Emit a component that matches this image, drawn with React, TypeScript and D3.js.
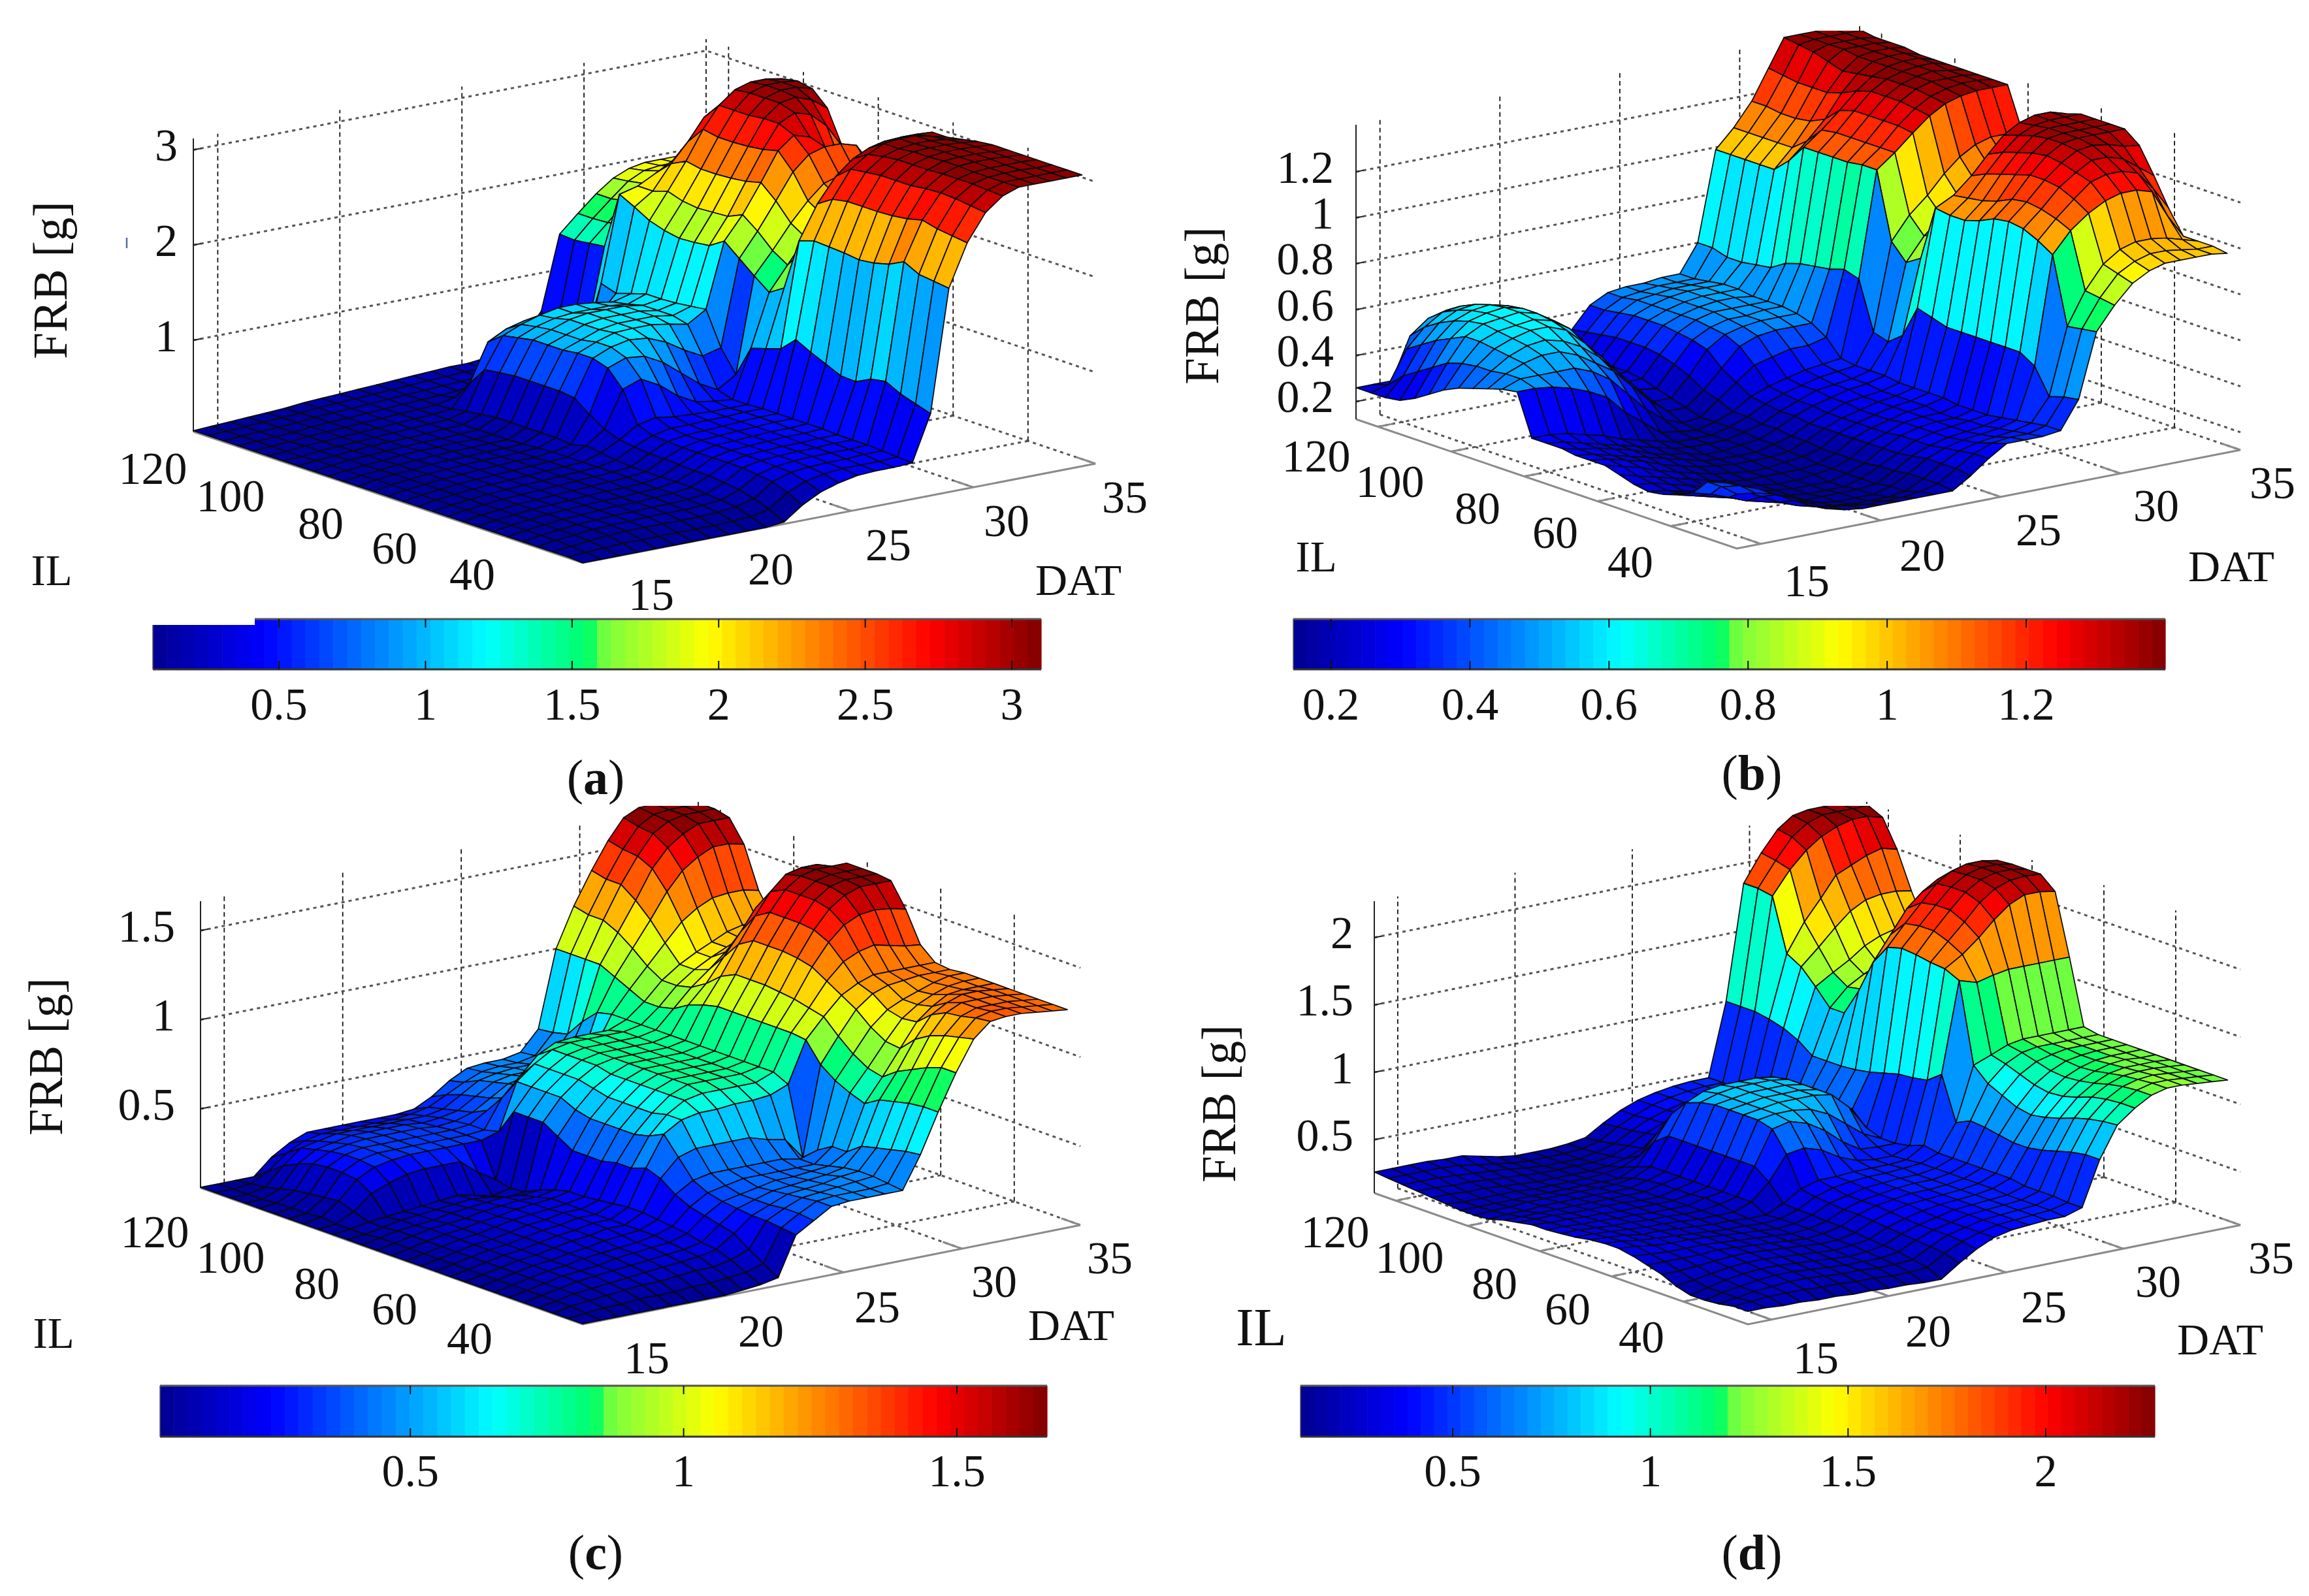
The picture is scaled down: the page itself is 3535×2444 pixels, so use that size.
import React from 'react';
import * as d3 from 'd3';

// grid of the surfaces, same for all four panels
const DAT = [14, 14.75, 15.5, 16.25, 17, 17.75, 18.5, 19.25, 20, 20.75, 21.5, 22.25, 23, 23.75, 24.5, 25.25, 26, 26.75, 27.5, 28.25, 29, 29.75, 30.5, 31.2, 31.85, 32.5, 33.15, 33.8, 34.45];
const IL = [22, 26, 30, 34, 38, 42, 46, 50, 54, 58, 62, 66, 70, 74, 78, 82, 86, 90, 94, 98, 102, 106, 110, 114, 118, 122, 126];
const datTicks = [15, 20, 25, 30, 35];
const ilTicks = [120, 100, 80, 60, 40];

// FRB, one row per IL, one column per DAT
const frbA = [
  [.04,.04,.04,.04,.04,.04,.04,.04,.04,.04,.04,.06,.2,.3,.36,.4,.41,.41,.42,.9,2.18,2.62,2.9,3.04,3.1,3.1,3.1,3.1,3.1],
  [.05,.06,.07,.08,.08,.08,.08,.08,.08,.09,.1,.14,.28,.36,.4,.42,.42,.42,.43,.95,2.2,2.64,2.92,3.05,3.1,3.1,3.1,3.1,3.1],
  [.05,.07,.09,.11,.12,.12,.12,.12,.12,.13,.15,.2,.34,.4,.42,.43,.43,.44,.44,1,2.22,2.66,2.94,3.06,3.1,3.11,3.11,3.1,3.1],
  [.05,.08,.1,.12,.13,.13,.14,.14,.14,.15,.17,.24,.36,.41,.43,.44,.44,.44,.45,1.08,2.3,2.7,2.95,3.06,3.1,3.11,3.11,3.11,3.1],
  [.05,.08,.1,.12,.13,.14,.14,.15,.15,.16,.18,.26,.38,.42,.43,.44,.44,.45,.45,1.05,2.22,2.66,2.94,3.06,3.11,3.12,3.12,3.11,3.1],
  [.05,.08,.1,.12,.13,.14,.15,.15,.16,.17,.2,.28,.38,.42,.43,.44,.44,.45,.45,.97,2.18,2.64,2.92,3.05,3.11,3.12,3.12,3.11,3.1],
  [.05,.08,.1,.12,.13,.14,.15,.15,.16,.17,.2,.28,.38,.42,.43,.44,.45,.45,.46,.98,2.16,2.63,2.92,3.05,3.1,3.12,3.12,3.11,3.1],
  [.05,.08,.1,.12,.13,.14,.15,.16,.16,.17,.2,.29,.38,.42,.43,.44,.45,.45,.46,1.05,2.18,2.63,2.92,3.05,3.1,3.11,3.11,3.1,3.08],
  [.05,.08,.1,.12,.13,.14,.15,.16,.17,.18,.2,.3,.38,.42,.43,.44,.45,.46,.46,1.12,2.19,2.63,2.9,3.03,3.08,3.1,3.1,3.08,3.05],
  [.05,.08,.1,.12,.13,.14,.15,.16,.17,.18,.2,.3,.39,.42,.43,.44,.45,.46,.46,1.2,2.2,2.6,2.88,3,3.08,3.1,3.1,3.06,3.02],
  [.05,.08,.1,.12,.13,.14,.15,.16,.17,.18,.22,.32,.4,.44,.44,.45,.45,.46,.46,1.05,2.15,2.5,2.75,2.9,2.98,3.02,3.03,3.03,3.02],
  [.05,.08,.1,.12,.13,.14,.15,.16,.17,.18,.24,.34,.46,.5,.47,.46,.45,.45,.45,1,1.6,1.95,2.2,2.4,2.5,2.55,2.58,2.6,2.6],
  [.05,.08,.1,.12,.13,.14,.15,.16,.17,.18,.26,.4,.78,.85,.75,.6,.5,.47,.45,.95,1.5,1.75,2,2.2,2.35,2.42,2.45,2.45,2.45],
  [.05,.08,.1,.12,.13,.14,.15,.16,.16,.18,.22,.5,.95,1.02,1,.9,.75,.6,.5,.62,1.62,1.85,2.1,2.3,2.45,2.5,2.5,2.5,2.5],
  [.05,.08,.1,.12,.13,.14,.15,.15,.16,.17,.24,.62,1,1.08,1.12,1.1,1.02,.9,.8,.85,1.75,2,2.28,2.55,2.7,2.75,2.75,2.7,2.45],
  [.05,.08,.1,.11,.13,.14,.14,.15,.15,.16,.24,.64,1,1.08,1.14,1.15,1.15,1.12,1.08,1.2,1.88,2.12,2.42,2.72,2.85,2.8,2.65,2.45,2.25],
  [.05,.07,.09,.11,.12,.13,.14,.14,.15,.15,.24,.64,.98,1.05,1.12,1.15,1.15,1.15,1.12,1.18,1.78,2.05,2.38,2.68,2.92,3,2.95,2.8,2.55],
  [.05,.07,.09,.1,.12,.13,.13,.14,.14,.15,.24,.64,.98,1.05,1.12,1.15,1.15,1.15,1.12,1.16,1.76,2.04,2.36,2.66,2.92,3.05,3.08,3.02,2.9],
  [.05,.07,.09,.1,.11,.12,.13,.13,.14,.15,.24,.64,.98,1.05,1.12,1.15,1.15,1.15,1.12,1.15,1.75,2.03,2.35,2.65,2.9,3.05,3.1,3.1,3.05],
  [.05,.07,.08,.1,.11,.12,.12,.13,.14,.15,.22,.62,.95,1.03,1.08,1.1,1.1,1.1,1.08,1.15,1.78,2.05,2.35,2.65,2.9,3.05,3.1,3.1,3.08],
  [.05,.06,.08,.09,.1,.11,.12,.13,.14,.15,.2,.6,.92,1,1.06,1.1,1.1,1.08,1.05,1.1,1.83,2.1,2.38,2.68,2.9,3.03,3.08,3.08,3.05],
  [.05,.06,.08,.09,.1,.11,.12,.13,.14,.15,.17,.4,.8,.9,.95,.95,.95,.92,.85,1.05,1.92,2.05,2.3,2.5,2.72,2.82,2.85,2.85,2.85],
  [.05,.06,.07,.09,.1,.11,.12,.13,.14,.15,.16,.2,.3,.35,.38,.38,.38,.36,.34,1.1,2,2.05,2.15,2.25,2.35,2.42,2.45,2.45,2.45],
  [.05,.06,.07,.08,.1,.11,.12,.13,.14,.15,.16,.17,.18,.19,.2,.2,.21,.22,.26,.5,1.4,1.6,1.82,1.98,2.1,2.15,2.15,2.15,2.15],
  [.05,.06,.07,.08,.09,.11,.12,.13,.14,.15,.16,.17,.18,.19,.2,.2,.21,.22,.26,.45,1.38,1.56,1.75,1.9,2,2.02,2.02,2.02,2.02],
  [.05,.06,.07,.08,.09,.1,.12,.13,.14,.15,.16,.17,.18,.19,.2,.2,.21,.24,.28,.45,1.36,1.55,1.72,1.87,1.95,1.97,1.97,1.97,1.97],
  [.05,.06,.07,.08,.09,.1,.12,.13,.14,.15,.16,.17,.18,.19,.2,.2,.22,.26,.35,.6,1.37,1.55,1.72,1.85,1.92,1.95,1.95,1.95,1.95],
];

const frbB = [
  [.36,.35,.33,.3,.26,.22,.2,.19,.19,.19,.19,.19,.19,.24,.3,.35,.35,.35,.36,.48,.76,.86,.94,.98,1,1,1,1,.99],
  [.37,.36,.33,.29,.25,.21,.19,.18,.17,.17,.17,.18,.2,.25,.3,.33,.34,.34,.36,.47,.75,.87,.96,1,1.02,1.02,1.01,1,1],
  [.37,.35,.3,.26,.22,.19,.17,.16,.15,.15,.15,.16,.2,.25,.29,.31,.32,.33,.35,.45,.74,.88,.98,1.03,1.05,1.05,1.04,1.02,1],
  [.3,.28,.25,.22,.2,.18,.16,.15,.14,.14,.14,.16,.2,.25,.28,.3,.31,.32,.34,.56,1.03,1.12,1.18,1.22,1.24,1.24,1.22,1.1,1],
  [.27,.25,.23,.21,.19,.17,.16,.14,.14,.14,.14,.15,.19,.24,.27,.29,.3,.31,.33,.6,1.07,1.15,1.22,1.28,1.3,1.3,1.28,1.2,1.1],
  [.25,.24,.22,.2,.18,.17,.15,.14,.13,.13,.13,.15,.19,.23,.27,.29,.3,.31,.32,.6,1.1,1.17,1.25,1.3,1.34,1.34,1.32,1.27,1.22],
  [.24,.23,.21,.2,.18,.16,.15,.14,.13,.13,.13,.15,.18,.23,.27,.29,.3,.3,.32,.6,1.11,1.18,1.26,1.32,1.36,1.37,1.36,1.34,1.33],
  [.25,.24,.22,.2,.18,.16,.15,.14,.13,.13,.14,.15,.18,.23,.26,.29,.3,.3,.32,.6,1.1,1.17,1.26,1.33,1.37,1.38,1.38,1.38,1.38],
  [.27,.25,.23,.21,.19,.17,.15,.14,.14,.14,.14,.15,.18,.23,.26,.28,.3,.31,.33,.6,1.07,1.14,1.24,1.32,1.37,1.38,1.38,1.38,1.38],
  [.29,.27,.25,.22,.2,.18,.16,.15,.14,.14,.15,.16,.18,.23,.26,.28,.3,.31,.33,.6,1.05,1.12,1.22,1.3,1.36,1.38,1.38,1.38,1.38],
  [.29,.28,.26,.24,.21,.19,.17,.16,.15,.15,.15,.16,.19,.23,.26,.28,.3,.31,.33,.62,1.05,1.11,1.2,1.28,1.34,1.37,1.38,1.38,1.38],
  [.29,.28,.26,.24,.22,.2,.18,.16,.15,.15,.15,.17,.19,.23,.26,.29,.3,.31,.33,.64,1.06,1.1,1.17,1.25,1.32,1.36,1.38,1.38,1.36],
  [.3,.28,.27,.25,.23,.2,.18,.17,.15,.15,.16,.17,.2,.24,.27,.29,.31,.32,.34,.5,.82,.92,1,1.06,1.1,1.12,1.13,1.13,1.13],
  [.3,.29,.27,.25,.23,.21,.19,.17,.16,.16,.16,.18,.2,.24,.27,.3,.31,.32,.34,.45,.78,.88,.95,1.02,1.08,1.12,1.14,1.14,1.14],
  [.3,.3,.29,.27,.25,.22,.2,.18,.16,.16,.16,.18,.21,.25,.28,.3,.32,.33,.34,.47,.85,.95,1.02,1.1,1.16,1.2,1.22,1.22,1.22],
  [.48,.48,.47,.45,.42,.38,.3,.24,.18,.17,.16,.18,.21,.26,.29,.31,.33,.34,.35,.68,1.14,1.2,1.27,1.33,1.37,1.39,1.4,1.4,1.4],
  [.47,.5,.5,.5,.5,.47,.42,.34,.26,.2,.17,.18,.24,.3,.36,.38,.4,.4,.42,.7,1.14,1.2,1.28,1.34,1.38,1.4,1.41,1.41,1.4],
  [.45,.5,.53,.55,.55,.52,.47,.42,.34,.26,.2,.2,.26,.34,.42,.45,.46,.46,.46,.68,1.13,1.2,1.28,1.35,1.39,1.41,1.41,1.41,1.4],
  [.43,.49,.54,.57,.58,.56,.52,.46,.38,.3,.22,.22,.3,.4,.45,.47,.48,.48,.48,.67,1.13,1.2,1.28,1.35,1.39,1.41,1.42,1.41,1.4],
  [.41,.49,.55,.58,.6,.6,.57,.5,.42,.33,.25,.24,.33,.42,.46,.48,.48,.49,.49,.66,1.13,1.2,1.28,1.35,1.39,1.41,1.42,1.42,1.4],
  [.38,.48,.56,.59,.6,.61,.59,.54,.45,.35,.26,.26,.35,.43,.47,.49,.49,.49,.49,.64,1.13,1.19,1.26,1.33,1.38,1.41,1.42,1.42,1.4],
  [.34,.46,.56,.6,.61,.62,.6,.55,.46,.36,.26,.27,.36,.44,.47,.49,.5,.5,.49,.6,1.05,1.12,1.2,1.3,1.37,1.41,1.42,1.42,1.4],
  [.3,.42,.53,.59,.61,.62,.6,.55,.47,.36,.26,.27,.36,.44,.47,.49,.5,.5,.5,.59,.99,1.07,1.17,1.28,1.36,1.41,1.42,1.42,1.41],
  [.27,.38,.5,.57,.6,.61,.59,.54,.46,.36,.26,.27,.36,.44,.47,.49,.5,.5,.5,.58,.99,1.07,1.16,1.28,1.38,1.42,1.42,1.42,1.41],
  [.26,.34,.46,.54,.58,.59,.57,.52,.44,.34,.25,.26,.35,.43,.47,.48,.49,.49,.49,.58,.99,1.07,1.16,1.28,1.4,1.42,1.42,1.42,1.41],
  [.26,.28,.42,.5,.55,.56,.54,.48,.4,.32,.24,.25,.34,.42,.46,.47,.48,.48,.48,.6,.99,1.07,1.17,1.29,1.41,1.42,1.42,1.42,1.42],
  [.26,.26,.26,.44,.5,.52,.5,.45,.38,.3,.24,.25,.33,.42,.46,.47,.47,.48,.48,.6,.99,1.07,1.17,1.3,1.42,1.42,1.42,1.42,1.42],
];

const frbC = [
  [.06,.06,.06,.06,.06,.06,.06,.06,.06,.07,.08,.1,.32,.38,.44,.45,.45,.45,.45,.63,.85,1.05,1.22,1.3,1.31,1.31,1.3,1.29,1.28],
  [.06,.07,.08,.08,.09,.09,.09,.1,.1,.11,.12,.15,.33,.39,.44,.45,.45,.45,.46,.62,.85,1.05,1.2,1.29,1.31,1.31,1.3,1.29,1.28],
  [.06,.08,.09,.1,.11,.12,.12,.13,.14,.14,.16,.2,.34,.39,.43,.44,.45,.46,.47,.6,.84,1.02,1.18,1.27,1.3,1.3,1.3,1.29,1.28],
  [.06,.08,.1,.11,.12,.13,.14,.15,.16,.17,.19,.26,.34,.38,.42,.43,.44,.46,.47,.58,.82,.98,1.15,1.26,1.3,1.3,1.3,1.29,1.28],
  [.06,.08,.1,.12,.13,.14,.15,.16,.17,.18,.2,.28,.35,.38,.41,.42,.43,.44,.46,.56,.8,.94,1.1,1.22,1.27,1.3,1.3,1.29,1.28],
  [.06,.08,.1,.12,.13,.14,.16,.17,.18,.19,.22,.3,.36,.38,.4,.42,.42,.43,.44,.5,.75,.88,1.02,1.15,1.22,1.27,1.28,1.28,1.28],
  [.06,.08,.1,.12,.13,.15,.16,.17,.18,.2,.23,.32,.38,.4,.42,.42,.42,.42,.42,.5,.78,.9,1.03,1.14,1.2,1.24,1.27,1.28,1.28],
  [.06,.08,.1,.12,.13,.15,.16,.18,.19,.2,.24,.36,.42,.44,.44,.44,.44,.44,.42,.45,.82,.95,1.08,1.16,1.2,1.23,1.26,1.28,1.28],
  [.06,.08,.1,.12,.13,.15,.17,.18,.2,.2,.25,.42,.52,.55,.55,.55,.55,.52,.5,.38,.88,1.02,1.15,1.22,1.25,1.26,1.27,1.27,1.27],
  [.06,.08,.1,.12,.13,.15,.17,.18,.2,.2,.25,.45,.62,.68,.7,.7,.71,.71,.72,.76,.99,1.1,1.2,1.25,1.28,1.28,1.28,1.28,1.28],
  [.06,.08,.1,.12,.13,.15,.17,.18,.2,.2,.24,.42,.58,.68,.74,.76,.76,.76,.76,.8,1,1.12,1.25,1.34,1.38,1.4,1.38,1.36,1.35],
  [.06,.08,.1,.12,.13,.15,.17,.18,.2,.2,.23,.42,.56,.66,.74,.78,.78,.78,.78,.8,1,1.14,1.3,1.42,1.5,1.54,1.55,1.54,1.52],
  [.06,.08,.1,.12,.13,.15,.17,.18,.19,.2,.22,.4,.56,.66,.74,.78,.78,.78,.78,.8,1,1.15,1.32,1.46,1.56,1.62,1.65,1.65,1.65],
  [.06,.08,.1,.12,.13,.15,.16,.18,.19,.2,.22,.4,.56,.66,.74,.78,.78,.78,.78,.8,1,1.16,1.33,1.47,1.58,1.64,1.66,1.66,1.66],
  [.06,.08,.1,.12,.13,.14,.16,.17,.18,.18,.2,.4,.56,.66,.74,.78,.78,.78,.78,.8,1,1.16,1.33,1.47,1.58,1.64,1.66,1.66,1.66],
  [.06,.08,.1,.11,.12,.14,.15,.16,.17,.16,.17,.45,.58,.68,.74,.78,.78,.78,.78,.8,1,1.16,1.33,1.47,1.58,1.64,1.66,1.66,1.66],
  [.06,.07,.09,.11,.12,.13,.14,.15,.14,.12,.13,.5,.62,.7,.76,.78,.78,.78,.78,.8,.98,1.12,1.28,1.42,1.54,1.62,1.64,1.64,1.6],
  [.06,.07,.09,.1,.11,.12,.13,.14,.12,.1,.12,.5,.62,.7,.76,.78,.78,.78,.78,.8,.95,1.05,1.18,1.3,1.42,1.48,1.5,1.48,1.42],
  [.06,.07,.12,.2,.24,.27,.28,.28,.28,.2,.14,.5,.62,.7,.76,.78,.78,.78,.78,.8,.9,1,1.08,1.16,1.22,1.25,1.26,1.26,1.25],
  [.06,.08,.15,.25,.3,.32,.33,.33,.33,.33,.33,.36,.62,.7,.76,.78,.78,.78,.78,.8,.88,.98,1.05,1.1,1.14,1.17,1.18,1.18,1.2],
  [.06,.07,.14,.26,.31,.33,.33,.33,.33,.33,.33,.34,.5,.6,.7,.75,.76,.76,.76,.8,.88,.98,1.05,1.1,1.14,1.18,1.2,1.2,1.2],
  [.06,.07,.13,.26,.31,.33,.33,.33,.33,.33,.33,.34,.4,.45,.5,.55,.58,.6,.62,.8,.92,1.03,1.14,1.24,1.3,1.34,1.35,1.35,1.33],
  [.06,.07,.12,.25,.3,.32,.33,.33,.33,.33,.32,.33,.36,.42,.48,.5,.5,.5,.5,.78,.96,1.1,1.24,1.38,1.48,1.54,1.58,1.58,1.56],
  [.06,.06,.1,.22,.28,.3,.32,.32,.32,.32,.31,.32,.34,.4,.46,.48,.48,.48,.5,.7,1,1.16,1.32,1.48,1.58,1.64,1.68,1.68,1.68],
  [.06,.06,.08,.18,.26,.28,.3,.3,.3,.3,.3,.3,.32,.38,.44,.46,.47,.47,.48,.6,1,1.2,1.38,1.52,1.63,1.68,1.7,1.7,1.7],
  [.06,.06,.07,.12,.2,.25,.27,.27,.27,.27,.27,.28,.3,.35,.4,.44,.45,.45,.47,.58,1,1.2,1.38,1.53,1.64,1.69,1.7,1.7,1.7],
  [.06,.06,.06,.06,.15,.21,.25,.25,.25,.25,.25,.25,.26,.31,.38,.43,.44,.44,.46,.57,1,1.22,1.4,1.55,1.66,1.7,1.7,1.7,1.7],
];

const frbD = [
  [.2,.2,.19,.19,.18,.18,.17,.17,.16,.16,.15,.15,.24,.32,.38,.41,.42,.43,.43,.47,.8,1.03,1.13,1.2,1.23,1.23,1.22,1.21,1.2],
  [.2,.21,.22,.22,.22,.21,.21,.2,.2,.19,.19,.2,.28,.34,.38,.41,.42,.43,.44,.47,.8,1.02,1.13,1.2,1.23,1.23,1.22,1.21,1.2],
  [.18,.2,.22,.23,.24,.24,.23,.22,.22,.21,.21,.22,.29,.35,.38,.41,.42,.43,.44,.48,.78,1,1.12,1.19,1.22,1.23,1.22,1.21,1.2],
  [.17,.2,.22,.24,.25,.25,.24,.23,.22,.22,.22,.24,.3,.35,.38,.41,.42,.43,.44,.48,.75,.97,1.1,1.17,1.21,1.22,1.22,1.21,1.2],
  [.17,.2,.23,.25,.26,.26,.25,.24,.23,.22,.23,.25,.31,.35,.38,.41,.42,.43,.44,.48,.72,.93,1.06,1.14,1.19,1.21,1.21,1.21,1.2],
  [.2,.22,.24,.26,.27,.27,.26,.25,.24,.23,.24,.26,.32,.36,.39,.41,.42,.43,.45,.5,.7,.9,1.03,1.12,1.17,1.2,1.21,1.2,1.2],
  [.25,.25,.26,.27,.28,.28,.27,.26,.25,.24,.24,.27,.33,.37,.4,.41,.42,.43,.45,.5,.7,.88,1.02,1.11,1.16,1.19,1.2,1.2,1.2],
  [.28,.28,.28,.28,.29,.28,.27,.26,.25,.24,.25,.28,.34,.38,.4,.42,.42,.43,.45,.5,.72,.9,1.04,1.12,1.17,1.19,1.2,1.2,1.2],
  [.31,.3,.29,.29,.29,.28,.27,.26,.25,.24,.25,.28,.34,.38,.4,.42,.43,.43,.45,.5,.74,.95,1.08,1.15,1.18,1.2,1.2,1.2,1.2],
  [.33,.32,.3,.29,.29,.28,.27,.26,.25,.24,.25,.29,.35,.38,.41,.42,.43,.43,.45,.5,.75,1,1.12,1.18,1.2,1.2,1.2,1.2,1.2],
  [.33,.32,.3,.29,.28,.27,.26,.25,.25,.24,.25,.29,.36,.4,.42,.43,.43,.44,.45,.5,.7,1.1,1.15,1.2,1.22,1.22,1.22,1.22,1.22],
  [.32,.31,.3,.28,.28,.27,.26,.25,.25,.24,.24,.3,.38,.42,.42,.43,.43,.43,.44,.52,1.02,1.69,1.65,1.68,1.7,1.7,1.7,1.7,1.7],
  [.3,.3,.29,.28,.27,.27,.26,.25,.25,.25,.3,.42,.6,.62,.58,.5,.45,.43,.43,.48,.94,1.74,1.82,1.92,2.03,2.12,2.17,2.17,2.15],
  [.29,.29,.28,.27,.27,.26,.26,.25,.25,.27,.3,.5,.75,.78,.74,.66,.55,.47,.46,.46,.92,1.75,1.88,2,2.12,2.2,2.24,2.25,2.24],
  [.28,.28,.27,.27,.26,.26,.25,.25,.25,.28,.3,.5,.78,.8,.8,.78,.72,.62,.52,.46,.91,1.77,1.92,2.05,2.16,2.23,2.26,2.26,2.24],
  [.28,.27,.27,.26,.26,.25,.25,.25,.25,.27,.3,.5,.78,.8,.82,.82,.82,.8,.68,.5,.88,1.78,1.92,2.05,2.16,2.23,2.26,2.26,2.24],
  [.26,.26,.26,.25,.25,.25,.25,.24,.24,.27,.3,.5,.78,.8,.82,.82,.82,.8,.7,.6,.85,1.75,1.9,2.03,2.15,2.22,2.25,2.25,2.23],
  [.24,.24,.24,.24,.24,.24,.24,.24,.24,.27,.3,.5,.78,.8,.82,.82,.82,.8,.72,.62,.83,1.6,1.78,1.95,2.05,2.12,2.16,2.18,2.16],
  [.21,.22,.22,.23,.23,.23,.23,.23,.23,.26,.3,.5,.76,.8,.82,.82,.82,.8,.72,.62,.82,1.35,1.5,1.68,1.8,1.88,1.92,1.92,1.88],
  [.2,.21,.21,.22,.22,.22,.22,.22,.22,.24,.3,.5,.72,.78,.8,.8,.8,.78,.7,.6,.82,1.15,1.3,1.42,1.48,1.5,1.5,1.48,1.4],
  [.2,.2,.2,.2,.2,.2,.2,.2,.2,.2,.26,.42,.6,.66,.68,.66,.62,.56,.52,.55,.82,1.15,1.28,1.35,1.4,1.42,1.4,1.38,1.32],
  [.21,.2,.2,.2,.2,.19,.19,.19,.19,.2,.22,.28,.42,.5,.52,.52,.5,.48,.47,.5,.9,1.27,1.35,1.42,1.5,1.55,1.58,1.58,1.55],
  [.22,.22,.21,.21,.2,.19,.18,.18,.18,.18,.19,.22,.27,.34,.39,.42,.44,.45,.46,.48,.95,1.38,1.5,1.62,1.72,1.78,1.8,1.8,1.78],
  [.23,.23,.22,.22,.21,.2,.19,.18,.18,.18,.18,.2,.25,.32,.37,.41,.43,.45,.46,.47,.98,1.44,1.65,1.8,1.95,2,2.05,2.08,2.05],
  [.24,.24,.24,.23,.22,.21,.2,.18,.17,.17,.17,.19,.23,.3,.36,.4,.43,.45,.46,.46,1,1.83,2,2.12,2.2,2.25,2.28,2.28,2.25],
  [.25,.25,.25,.25,.24,.22,.2,.18,.17,.17,.17,.18,.21,.29,.35,.4,.43,.45,.46,.46,1,1.85,2.03,2.18,2.26,2.3,2.3,2.3,2.3],
  [.26,.26,.26,.26,.25,.25,.22,.19,.17,.17,.17,.18,.2,.28,.35,.4,.43,.45,.46,.46,1,1.85,2.05,2.2,2.28,2.3,2.3,2.3,2.3],
];

const zTicksA = [1, 2, 3];
const zTicksB = [0.2, 0.4, 0.6, 0.8, 1, 1.2];
const zTicksC = [0.5, 1, 1.5];
const zTicksD = [0.5, 1, 1.5, 2];
const barTicksA = [0.5, 1, 1.5, 2, 2.5, 3];
const barTicksB = [0.2, 0.4, 0.6, 0.8, 1, 1.2];
const barTicksC = [0.5, 1, 1.5];
const barTicksD = [0.5, 1, 1.5, 2];

const FONT = '"Liberation Serif", serif';

type Pt = [number, number];

const panels = [
  {
    name: 'a', data: frbA, zTicks: zTicksA, barTicks: barTicksA,
    F: [892, 862] as Pt, L: [296, 661] as Pt, R: [1677, 710] as Pt,
    zDomain: [0.04, 3.12], zHeight: 449, colorDomain: [0.07, 3.1], clipTop: 0,
    zLabelX: 272, zLabelDy: -7,
    ilLabels: [[234, 717], [353, 759], [491, 801], [604, 839], [723, 879]],
    datLabels: [[997, 910], [1180, 871], [1360, 834], [1541, 797], [1722, 761]],
    ilTitle: [79, 873], datTitle: [1651, 888], frb: [77, 429], ilSize: 67,
    bar: [234, 1594, 948, 1025], barLabelY: 1078, caption: [912, 1190], notch: [234, 390, 957],
  },
  {
    name: 'b', data: frbB, zTicks: zTicksB, barTicks: barTicksB,
    F: [2659, 840] as Pt, L: [2076, 642] as Pt, R: [3430, 689] as Pt,
    zDomain: [0.123, 1.405], zHeight: 451, colorDomain: [0.146, 1.4], clipTop: 47,
    zLabelX: 2042, zLabelDy: -7,
    ilLabels: [[2015, 698], [2128, 737], [2262, 778], [2381, 815], [2496, 860]],
    datLabels: [[2766, 889], [2943, 850], [3121, 811], [3301, 774], [3479, 739]],
    ilTitle: [2015, 852], datTitle: [3416, 867], frb: [1840, 468], ilSize: 67,
    bar: [1980, 3315, 948, 1025], barLabelY: 1078, caption: [2682, 1183], notch: null,
  },
  {
    name: 'c', data: frbC, zTicks: zTicksC, barTicks: barTicksC,
    F: [892, 2028] as Pt, L: [307, 1819] as Pt, R: [1654, 1876] as Pt,
    zDomain: [0.057, 1.665], zHeight: 439, colorDomain: [0.042, 1.665], clipTop: 1234,
    zLabelX: 268, zLabelDy: -7,
    ilLabels: [[237, 1886], [353, 1925], [485, 1965], [604, 2004], [719, 2049]],
    datLabels: [[990, 2079], [1165, 2038], [1343, 2001], [1522, 1962], [1699, 1926]],
    ilTitle: [82, 2041], datTitle: [1640, 2029], frb: [70, 1618], ilSize: 67,
    bar: [245, 1603, 2122, 2200], barLabelY: 2252, caption: [912, 2377], notch: null,
  },
  {
    name: 'd', data: frbD, zTicks: zTicksD, barTicks: barTicksD,
    F: [2676, 2028] as Pt, L: [2104, 1827] as Pt, R: [3430, 1876] as Pt,
    zDomain: [0.104, 2.27], zHeight: 447, colorDomain: [0.115, 2.276], clipTop: 1234,
    zLabelX: 2072, zLabelDy: -7,
    ilLabels: [[2044, 1886], [2158, 1925], [2288, 1965], [2400, 2004], [2513, 2047]],
    datLabels: [[2780, 2079], [2952, 2038], [3129, 2001], [3304, 1962], [3477, 1926]],
    ilTitle: [1931, 2032], datTitle: [3399, 2051], frb: [1866, 1690], ilSize: 82,
    bar: [1991, 3299, 2122, 2200], barLabelY: 2252, caption: [2682, 2377], notch: null,
  },
];

// MATLAB jet with the visible jump at the green of the original colour bars
const jet = d3.scaleLinear<string>()
  .domain([0, 0.125, 0.375, 0.49, 0.51, 0.625, 0.875, 1])
  .range(['#00008f', '#0000ff', '#00ffff', '#00ff66', '#7cff3c', '#ffff00', '#ff0000', '#800000'])
  .clamp(true);
const jetBand = (t: number) => jet((Math.min(63, Math.max(0, Math.floor(t * 64))) + 0.5) / 64);

const Panel = ({ p }: { p: (typeof panels)[number] }) => {
  const u = d3.scaleLinear().domain([14, 35]).range([0, 1]);
  const v = d3.scaleLinear().domain([IL[0], IL[IL.length - 1]]).range([0, 1]);
  const h = d3.scaleLinear().domain(p.zDomain).range([0, p.zHeight]);
  const colorT = d3.scaleLinear().domain(p.colorDomain).range([0, 1]);

  const project = (a: number, b: number, zPx: number): Pt => [
    p.F[0] + a * (p.R[0] - p.F[0]) + b * (p.L[0] - p.F[0]),
    p.F[1] + a * (p.R[1] - p.F[1]) + b * (p.L[1] - p.F[1]) - zPx,
  ];
  const seg = (a: Pt, b: Pt) => `M${a[0]},${a[1]}L${b[0]},${b[1]}`;
  const zTop = p.zHeight;

  // painter's order: far corner first
  const cells: React.ReactNode[] = [];
  const line = d3.line();
  for (let j = IL.length - 2; j >= 0; j--) {
    for (let i = DAT.length - 2; i >= 0; i--) {
      const pts = [[i, j], [i + 1, j], [i + 1, j + 1], [i, j + 1]].map(([a, b]) =>
        project(u(DAT[a]), v(IL[b]), h(p.data[b][a])));
      cells.push(
        <path key={`${i}-${j}`} d={line(pts) + 'Z'} fill={jetBand(colorT(p.data[j][i]))}
          stroke="#0a0a0a" strokeWidth={1.7} strokeLinejoin="round" />
      );
    }
  }

  const [bx0, bx1, by0, by1] = p.bar;
  const barX = d3.scaleLinear().domain(p.colorDomain).range([bx0, bx1]);
  const bandW = (bx1 - bx0) / 64;

  return (
    <g fontFamily={FONT} fill="#111">
      <clipPath id={`clip-${p.name}`}>
        <rect x={0} y={p.clipTop} width={3535} height={2444 - p.clipTop} />
      </clipPath>

      {/* walls and floor */}
      <g fill="none">
        {datTicks.map((d) => (
          <g key={d}>
            <path d={seg(project(u(d), 1, 0), project(u(d), 1, zTop))} stroke="#111" strokeWidth={1.8} strokeDasharray="7 5" />
            <path d={seg(project(u(d), 1, 0), project(u(d), 0, 0))} stroke="#555" strokeWidth={3} strokeDasharray="5 6" />
          </g>
        ))}
        {ilTicks.map((d) => (
          <g key={d}>
            <path d={seg(project(1, v(d), 0), project(1, v(d), zTop))} stroke="#111" strokeWidth={1.8} strokeDasharray="7 5" />
            <path d={seg(project(1, v(d), 0), project(0, v(d), 0))} stroke="#555" strokeWidth={3} strokeDasharray="5 6" />
          </g>
        ))}
        {p.zTicks.map((z) => (
          <path key={z} d={`M${project(0, 1, h(z)).join(',')}L${project(1, 1, h(z)).join(',')}L${project(1, 0, h(z)).join(',')}`}
            stroke="#555" strokeWidth={3} strokeDasharray="5 6" />
        ))}
        <path d={`M${project(0, 1, 0).join(',')}L${project(0, 0, 0).join(',')}L${project(1, 0, 0).join(',')}`} stroke="#8a8a8a" strokeWidth={3} />
        <path d={seg(project(0, 1, 0), project(0, 1, zTop))} stroke="#222" strokeWidth={2} />
        {datTicks.map((d) => (
          <path key={d} d={seg(project(u(d), 0, 0), project(u(d), 0.05, 0))} stroke="#8a8a8a" strokeWidth={3} />
        ))}
        {ilTicks.map((d) => (
          <path key={d} d={seg(project(0, v(d), 0), project(0.03, v(d), 0))} stroke="#8a8a8a" strokeWidth={3} />
        ))}
        {p.zTicks.map((z) => (
          <path key={z} d={seg(project(0, 1, h(z)), project(0.015, 1, h(z)))} stroke="#222" strokeWidth={2} />
        ))}
      </g>

      <g clipPath={`url(#clip-${p.name})`}>{cells}</g>

      {/* tick labels */}
      <g fontSize={70} dominantBaseline="central">
        {p.zTicks.map((z) => (
          <text key={z} x={p.zLabelX} y={project(0, 1, h(z))[1] + p.zLabelDy} textAnchor="end">{z}</text>
        ))}
        {ilTicks.map((d, k) => (
          <text key={d} x={p.ilLabels[k][0]} y={p.ilLabels[k][1]} textAnchor="middle">{d}</text>
        ))}
        {datTicks.map((d, k) => (
          <text key={d} x={p.datLabels[k][0]} y={p.datLabels[k][1]} textAnchor="middle">{d}</text>
        ))}
      </g>

      {/* axis titles */}
      <text x={p.ilTitle[0]} y={p.ilTitle[1]} fontSize={p.ilSize} textAnchor="middle" dominantBaseline="central">IL</text>
      <text x={p.datTitle[0]} y={p.datTitle[1]} fontSize={68} textAnchor="middle" dominantBaseline="central">DAT</text>
      <text transform={`translate(${p.frb[0]},${p.frb[1]}) rotate(-90)`} fontSize={73} textAnchor="middle" dominantBaseline="central">FRB [g]</text>

      {/* colour bar */}
      {d3.range(64).map((k) => (
        <rect key={k} x={bx0 + k * bandW} y={by0} width={bandW + 0.6} height={by1 - by0} fill={jetBand((k + 0.5) / 64)} />
      ))}
      {p.notch && <rect x={p.notch[0] - 2} y={by0 - 3} width={p.notch[1] - p.notch[0] + 2} height={p.notch[2] - by0 + 3} fill="#fff" />}
      <path d={`M${p.notch ? p.notch[1] : bx0},${by0}H${bx1}`} stroke="#555" strokeWidth={3} fill="none" />
      <path d={`M${bx0},${by1}H${bx1}`} stroke="#333" strokeWidth={3} fill="none" />
      <path d={`M${bx0},${p.notch ? p.notch[2] : by0}V${by1}`} stroke="#555" strokeWidth={1.5} fill="none" />
      {p.barTicks.map((t) => (
        <g key={t}>
          <path d={`M${barX(t)},${by0}v13M${barX(t)},${by1}v-13`} stroke="#111" strokeWidth={2} fill="none" />
          <text x={barX(t)} y={p.barLabelY} fontSize={70} textAnchor="middle" dominantBaseline="central">{t}</text>
        </g>
      ))}

      <text x={p.caption[0]} y={p.caption[1]} fontSize={76} textAnchor="middle" dominantBaseline="central">
        (<tspan fontWeight="bold">{p.name}</tspan>)
      </text>
    </g>
  );
};

export default function App() {
  return (
    <svg width={3535} height={2444} viewBox="0 0 3535 2444"
      style={{ position: 'absolute', left: 0, top: 0, display: 'block', background: '#fff' }}>
      {panels.map((p) => <Panel key={p.name} p={p} />)}
      {/* stray mark left of the "2" in panel a */}
      <path d="M194,364V380" stroke="#5a6a9a" strokeWidth={2.5} fill="none" />
    </svg>
  );
}
